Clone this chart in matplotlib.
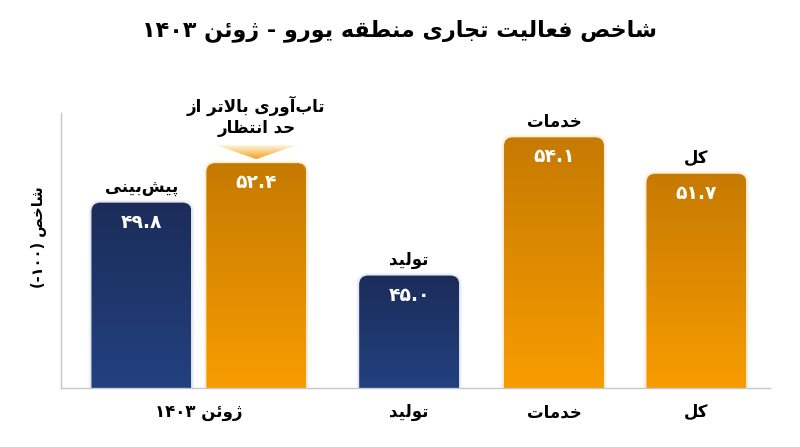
import numpy as np
import matplotlib
matplotlib.use("Agg")
import matplotlib.pyplot as plt
from matplotlib.patches import FancyBboxPatch, Polygon
from matplotlib.colors import LinearSegmentedColormap

# ---- data ----
categories = ["ژوئن ۱۴۰۳", "تولید", "خدمات", "کل"]
bar_names = ["پیش‌بینی", "تاب‌آوری بالاتر از\nحد انتظار", "تولید", "خدمات", "کل"]
values = [49.8, 52.4, 45.0, 54.1, 51.7]
value_labels = ["۴۹.۸", "۵۲.۴", "۴۵.۰", "۵۴.۱", "۵۱.۷"]
kinds = ["blue", "orange", "blue", "orange", "orange"]
title = "شاخص فعالیت تجاری منطقه یورو - ژوئن ۱۴۰۳"
ylabel_word = "شاخص"
ylabel_num = "(-۱۰۰)"

# ---- minimal arabic/persian shaping (no external libs) ----
FORMS = {
    'ء': ('\uFE80', None, None, None),
    'آ': ('\uFE81', '\uFE82', None, None),
    'أ': ('\uFE83', '\uFE84', None, None),
    'ؤ': ('\uFE85', '\uFE86', None, None),
    'إ': ('\uFE87', '\uFE88', None, None),
    'ئ': ('\uFE89', '\uFE8A', '\uFE8B', '\uFE8C'),
    'ا': ('\uFE8D', '\uFE8E', None, None),
    'ب': ('\uFE8F', '\uFE90', '\uFE91', '\uFE92'),
    'ة': ('\uFE93', '\uFE94', None, None),
    'ت': ('\uFE95', '\uFE96', '\uFE97', '\uFE98'),
    'ث': ('\uFE99', '\uFE9A', '\uFE9B', '\uFE9C'),
    'ج': ('\uFE9D', '\uFE9E', '\uFE9F', '\uFEA0'),
    'ح': ('\uFEA1', '\uFEA2', '\uFEA3', '\uFEA4'),
    'خ': ('\uFEA5', '\uFEA6', '\uFEA7', '\uFEA8'),
    'د': ('\uFEA9', '\uFEAA', None, None),
    'ذ': ('\uFEAB', '\uFEAC', None, None),
    'ر': ('\uFEAD', '\uFEAE', None, None),
    'ز': ('\uFEAF', '\uFEB0', None, None),
    'س': ('\uFEB1', '\uFEB2', '\uFEB3', '\uFEB4'),
    'ش': ('\uFEB5', '\uFEB6', '\uFEB7', '\uFEB8'),
    'ص': ('\uFEB9', '\uFEBA', '\uFEBB', '\uFEBC'),
    'ض': ('\uFEBD', '\uFEBE', '\uFEBF', '\uFEC0'),
    'ط': ('\uFEC1', '\uFEC2', '\uFEC3', '\uFEC4'),
    'ظ': ('\uFEC5', '\uFEC6', '\uFEC7', '\uFEC8'),
    'ع': ('\uFEC9', '\uFECA', '\uFECB', '\uFECC'),
    'غ': ('\uFECD', '\uFECE', '\uFECF', '\uFED0'),
    'ف': ('\uFED1', '\uFED2', '\uFED3', '\uFED4'),
    'ق': ('\uFED5', '\uFED6', '\uFED7', '\uFED8'),
    'ل': ('\uFEDD', '\uFEDE', '\uFEDF', '\uFEE0'),
    'م': ('\uFEE1', '\uFEE2', '\uFEE3', '\uFEE4'),
    'ن': ('\uFEE5', '\uFEE6', '\uFEE7', '\uFEE8'),
    'ه': ('\uFEE9', '\uFEEA', '\uFEEB', '\uFEEC'),
    'و': ('\uFEED', '\uFEEE', None, None),
    'پ': ('\uFB56', '\uFB57', '\uFB58', '\uFB59'),
    'چ': ('\uFB7A', '\uFB7B', '\uFB7C', '\uFB7D'),
    'ژ': ('\uFB8A', '\uFB8B', None, None),
    'ک': ('\uFB8E', '\uFB8F', '\uFB90', '\uFB91'),
    'گ': ('\uFB92', '\uFB93', '\uFB94', '\uFB95'),
    'ی': ('\uFBFC', '\uFBFD', '\uFBFE', '\uFBFF'),
}
LAM_ALEF = {'ا': ('\uFEFB', '\uFEFC'), 'آ': ('\uFEF5', '\uFEF6')}


def shape_word(w):
    # merge lam-alef first
    chars = []
    i = 0
    while i < len(w):
        if w[i] == 'ل' and i + 1 < len(w) and w[i + 1] in LAM_ALEF:
            chars.append(('LA', w[i + 1]))
            i += 2
        else:
            chars.append(('C', w[i]))
            i += 1

    def joins_next(item):  # can connect to following letter
        kind, c = item
        if kind == 'LA':
            return False
        return c in FORMS and FORMS[c][2] is not None

    def joins_prev(item):
        kind, c = item
        if kind == 'LA':
            return True
        return c in FORMS and FORMS[c][1] is not None

    out = []
    for k, item in enumerate(chars):
        kind, c = item
        if kind == 'C' and c == '\u200c':
            continue
        prev_j = k > 0 and joins_next(chars[k - 1]) and joins_prev(item)
        nxt_j = k + 1 < len(chars) and joins_next(item) and joins_prev(chars[k + 1])
        if kind == 'LA':
            out.append(LAM_ALEF[c][1] if prev_j else LAM_ALEF[c][0])
            continue
        if c not in FORMS:
            out.append(c)
            continue
        iso, fin, ini, med = FORMS[c]
        if prev_j and nxt_j:
            out.append(med)
        elif prev_j:
            out.append(fin)
        elif nxt_j:
            out.append(ini)
        else:
            out.append(iso)
    return ''.join(out)


def fa(text):
    lines = []
    for line in text.split('\n'):
        words = line.split(' ')
        vis = []
        for w in reversed(words):
            if all(ch in '۰۱۲۳۴۵۶۷۸۹.-()0123456789' for ch in w):
                vis.append(w)
            else:
                vis.append(shape_word(w)[::-1])
        lines.append(' '.join(vis))
    return '\n'.join(lines)


# ---- layout ----
W, H = 800, 447
x_pos = [0.0, 1.0, 2.33, 3.59, 4.83]
tick_pos = [(x_pos[0] + x_pos[1]) / 2, x_pos[2], x_pos[3], x_pos[4]]
bar_w = 0.87
xlim = (-0.70, 5.47)
ylim = (37.6, 55.7)
ax_px = (61, 113, 770, 388)  # left, top, right, bottom in pixels

fig = plt.figure(figsize=(W / 100, H / 100), dpi=100)
ax = fig.add_axes([ax_px[0] / W, 1 - ax_px[3] / H,
                   (ax_px[2] - ax_px[0]) / W, (ax_px[3] - ax_px[1]) / H])
ax.set_xlim(*xlim)
ax.set_ylim(*ylim)

xpp = (xlim[1] - xlim[0]) / (ax_px[2] - ax_px[0])
ypp = (ylim[1] - ylim[0]) / (ax_px[3] - ax_px[1])

grads = {
    "blue": LinearSegmentedColormap.from_list("b", ["#23417f", "#1b2c59"]),
    "orange": LinearSegmentedColormap.from_list("o", ["#f89c00", "#c67a02"]),
}
glow = {"blue": "#9fb0d0", "orange": "#f5c77a"}

bars = ax.bar(x_pos, values, width=bar_w, color="none", edgecolor="none")
grad = np.linspace(0, 1, 256).reshape(-1, 1)
r = 9 * xpp
ma = ypp / xpp
for b, kind in zip(bars, kinds):
    x0, w, top = b.get_x(), b.get_width(), b.get_height()
    base = ylim[0] - 20 * ypp
    for k, a in [(3, 0.08), (2, 0.12), (1, 0.2)]:
        g = FancyBboxPatch((x0 - k * xpp, base), w + 2 * k * xpp, top - base + k * ypp,
                           boxstyle=f"round,pad=0,rounding_size={r + k * xpp}",
                           mutation_aspect=ma, facecolor=glow[kind],
                           edgecolor="none", alpha=a, zorder=1)
        ax.add_patch(g)
    p = FancyBboxPatch((x0, base), w, top - base,
                       boxstyle=f"round,pad=0,rounding_size={r}",
                       mutation_aspect=ma, facecolor="none", edgecolor="none")
    ax.add_patch(p)
    im = ax.imshow(grad, cmap=grads[kind], extent=(x0, x0 + w, ylim[0], top),
                   origin="lower", aspect="auto", zorder=2, interpolation="bilinear")
    im.set_clip_path(p)

# values inside bars
for xp, v, lab in zip(x_pos, values, value_labels):
    ax.annotate(lab, (xp, v), xytext=(0, -14), textcoords="offset points",
                ha="center", va="center", color="white", fontsize=13.5,
                fontweight="bold", family="DejaVu Sans", zorder=5)

# names above bars
for i, (xp, v, nm) in enumerate(zip(x_pos, values, bar_names)):
    if "\n" in nm:
        ax.annotate(fa(nm), (xp, v), xytext=(0, 19), textcoords="offset points",
                    ha="center", va="bottom", fontsize=12, fontweight="bold",
                    family="DejaVu Sans", linespacing=1.2, zorder=5)
        # triangle pointer
        tri = Polygon([(xp - 40 * xpp, v + 18 * ypp), (xp + 40 * xpp, v + 18 * ypp),
                       (xp, v + 4 * ypp)], closed=True, facecolor="none",
                      edgecolor="none")
        ax.add_patch(tri)
        tcm = LinearSegmentedColormap.from_list("t", ["#f7a11a", "#fff4e0"])
        tim = ax.imshow(grad, cmap=tcm,
                        extent=(xp - 40 * xpp, xp + 40 * xpp, v + 4 * ypp, v + 18 * ypp),
                        origin="lower", aspect="auto", zorder=3)
        tim.set_clip_path(tri)
    else:
        ax.annotate(fa(nm), (xp, v), xytext=(0, 5), textcoords="offset points",
                    ha="center", va="bottom", fontsize=12, fontweight="bold",
                    family="DejaVu Sans", zorder=5)

ax.set_xlim(*xlim)
ax.set_ylim(*ylim)

for s in ["top", "right"]:
    ax.spines[s].set_visible(False)
for s in ["left", "bottom"]:
    ax.spines[s].set_color("#c8c8c8")
    ax.spines[s].set_linewidth(1.0)
ax.set_yticks([])
ax.set_xticks(tick_pos)
ax.set_xticklabels([fa(c) for c in categories], fontsize=12, fontweight="bold",
                   family="DejaVu Sans")
ax.tick_params(axis="x", length=0, pad=11)

fig.text(38 / W, 1 - 237 / H, ylabel_num + " " + fa(ylabel_word), rotation=90,
         ha="center", va="center", fontsize=10.5, fontweight="bold",
         family="DejaVu Sans")
fig.text(0.5, 1 - 31 / H, fa(title), ha="center", va="center", fontsize=16,
         fontweight="bold", family="DejaVu Sans")

fig.savefig("out.png", dpi=100)
